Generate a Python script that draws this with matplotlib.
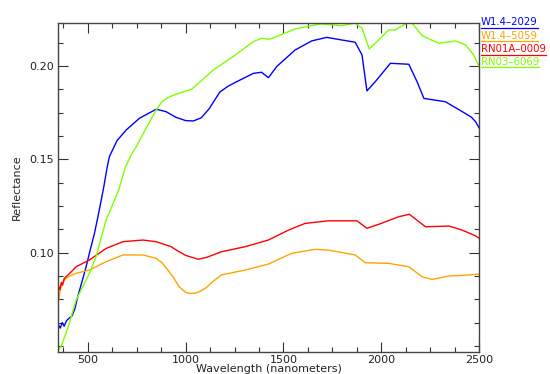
import matplotlib
matplotlib.use("Agg")
import matplotlib.pyplot as plt
from matplotlib.ticker import MultipleLocator
from matplotlib.lines import Line2D

series_names = ["W1.4\u20132029", "W1.4\u20135059", "RN01A\u20130009", "RN03\u20136069"]
series_colors = ["#0000ff", "#ffa500", "#ff0000", "#7fff00"]

blue_x = [352, 360, 370, 380, 392, 406, 420, 435, 449, 470, 492, 512, 534, 552, 569, 582, 600, 611, 650, 697, 765, 850, 900, 950, 1000, 1040, 1080, 1120, 1175, 1215, 1260, 1346, 1388, 1423, 1465, 1474, 1559, 1644, 1721, 1798, 1866, 1901, 1926, 1969, 2046, 2140, 2182, 2217, 2327, 2413, 2460, 2481, 2500]
blue_y = [0.0610, 0.0595, 0.0625, 0.0605, 0.0635, 0.0649, 0.0660, 0.0700, 0.0763, 0.0840, 0.0924, 0.1010, 0.1100, 0.1190, 0.1280, 0.1350, 0.1460, 0.1514, 0.1600, 0.1657, 0.1720, 0.1768, 0.1755, 0.1725, 0.1707, 0.1705, 0.1722, 0.1770, 0.1860, 0.1890, 0.1915, 0.1960, 0.1966, 0.1937, 0.1996, 0.2005, 0.2085, 0.2134, 0.2153, 0.2139, 0.2127, 0.2059, 0.1866, 0.1916, 0.2014, 0.2009, 0.1916, 0.1826, 0.1808, 0.1755, 0.1725, 0.1701, 0.1666]

orange_x = [352, 360, 370, 381, 400, 441, 509, 594, 680, 782, 850, 880, 910, 936, 968, 1000, 1021, 1050, 1080, 1107, 1140, 1183, 1303, 1423, 1542, 1661, 1730, 1866, 1918, 2037, 2140, 2208, 2259, 2345, 2450, 2500]
orange_y = [0.0745, 0.0800, 0.0830, 0.0853, 0.0870, 0.0889, 0.0906, 0.0951, 0.0987, 0.0987, 0.0969, 0.0945, 0.0905, 0.0870, 0.0815, 0.0787, 0.0781, 0.0782, 0.0795, 0.0813, 0.0845, 0.0880, 0.0906, 0.0938, 0.0996, 0.1017, 0.1013, 0.0987, 0.0945, 0.0942, 0.0924, 0.0870, 0.0856, 0.0874, 0.0880, 0.0885]

red_x = [352, 358, 365, 372, 380, 389, 410, 441, 509, 594, 680, 782, 850, 927, 953, 1000, 1064, 1107, 1183, 1303, 1423, 1525, 1610, 1730, 1875, 1926, 1986, 2089, 2143, 2225, 2345, 2413, 2480, 2500]
red_y = [0.0817, 0.0800, 0.0840, 0.0825, 0.0860, 0.0870, 0.0890, 0.0924, 0.0960, 0.1022, 0.1058, 0.1067, 0.1058, 0.1031, 0.1013, 0.0985, 0.0964, 0.0974, 0.1004, 0.1031, 0.1067, 0.1120, 0.1156, 0.1170, 0.1170, 0.1130, 0.1151, 0.1192, 0.1205, 0.1138, 0.1142, 0.1120, 0.1090, 0.1076]

green_x = [352, 364, 400, 441, 509, 543, 594, 637, 660, 690, 720, 748, 800, 850, 880, 919, 970, 1030, 1080, 1141, 1243, 1346, 1388, 1430, 1465, 1559, 1687, 1798, 1866, 1901, 1938, 1986, 2037, 2071, 2148, 2208, 2294, 2379, 2430, 2470, 2500]
green_y = [0.0480, 0.0495, 0.0600, 0.0745, 0.0889, 0.0978, 0.1174, 0.1280, 0.1340, 0.1450, 0.1520, 0.1567, 0.1670, 0.1764, 0.1810, 0.1835, 0.1855, 0.1875, 0.1920, 0.1978, 0.2050, 0.2130, 0.2148, 0.2143, 0.2157, 0.2198, 0.2225, 0.2216, 0.2230, 0.2202, 0.2091, 0.2139, 0.2193, 0.2193, 0.2241, 0.2162, 0.2121, 0.2134, 0.2112, 0.2060, 0.1996]

xticks = [500, 1000, 1500, 2000, 2500]
yticks = [0.10, 0.15, 0.20]

W, H = 550, 374
fig = plt.figure(figsize=(5.5, 3.74), dpi=100)
L, R, T, B = 58.3, 479.3, 23.0, 352.0
ax = fig.add_axes([L / W, 1 - B / H, (R - L) / W, (B - T) / H])

data = [(blue_x, blue_y), (orange_x, orange_y), (red_x, red_y), (green_x, green_y)]
for (xs, ys), c in zip(data, series_colors):
    ax.plot(xs, ys, color=c, lw=1.0)

ax.set_xlim(350, 2500)
ax.set_ylim(0.0467, 0.2230)
ax.set_xticks(xticks)
ax.set_xticklabels([str(v) for v in xticks])
ax.set_yticks(yticks)
ax.set_yticklabels(["%.2f" % v for v in yticks])
ax.xaxis.set_minor_locator(MultipleLocator(125))
ax.yaxis.set_minor_locator(MultipleLocator(0.0125))
ax.tick_params(which="both", direction="in", top=True, right=True, labelsize=8,
               colors="#333333", labelcolor="#222222", width=0.8)
ax.tick_params(which="major", length=7)
ax.tick_params(which="minor", length=3.5)
ax.tick_params(axis="x", pad=2)
ax.tick_params(axis="y", pad=3)
for s in ax.spines.values():
    s.set_color("#444444")
    s.set_linewidth(1.0)

ax.set_xlabel("Wavelength (nanometers)", fontsize=8, color="#222222")
ax.xaxis.set_label_coords(0.5, -(369 - B) / (B - T), transform=ax.transAxes)
ax.xaxis.label.set_va("center")
ax.set_ylabel("Reflectance", fontsize=8, color="#222222")
ax.yaxis.set_label_coords((17 - L) / (R - L), 0.5, transform=ax.transAxes)
ax.yaxis.label.set_va("center")

fig.canvas.draw()
renderer = fig.canvas.get_renderer()
ys_leg = [22, 35.7, 49, 61.7]
for name, c, yp in zip(series_names, series_colors, ys_leg):
    t = fig.text(481 / W, 1 - yp / H, name, color=c, fontsize=7.3, ha="left", va="center")
    bb = t.get_window_extent(renderer)
    x0 = bb.x0 / W
    x1 = bb.x1 / W
    yl = 1 - (yp + 5.5) / H
    fig.add_artist(Line2D([x0, x1], [yl, yl], color=c, lw=0.9, transform=fig.transFigure))

fig.savefig("out.png", dpi=100)
